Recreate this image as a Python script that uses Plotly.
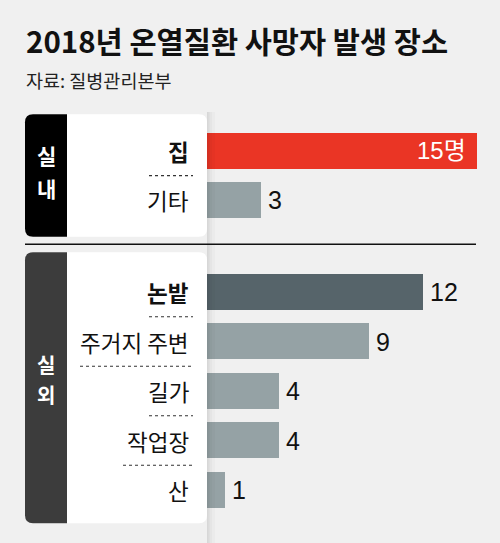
import plotly.graph_objects as go

W, H = 500, 543

# ---- data ----
indoor_places = ["집", "기타"]
indoor_counts = [15, 3]
outdoor_places = ["논밭", "주거지 주변", "길가", "작업장", "산"]
outdoor_counts = [12, 9, 4, 4, 1]
group_names = ["실내", "실외"]
title_text = "2018년 온열질환 사망자 발생 장소"
source_text = "자료: 질병관리본부"
unit = "명"

# ---- style ----
BG = "#f0f0f0"
RED = "#ea3525"
GRAY = "#95a2a5"
DARK = "#56646a"
indoor_colors = [RED, GRAY]
outdoor_colors = [DARK, GRAY, GRAY, GRAY, GRAY]
indoor_bold = [True, False]
outdoor_bold = [True, False, False, False, False]
indoor_sep_start = [149]
outdoor_sep_start = [149, 80, 149, 123]
KFONT = "Noto Sans CJK KR"
NFONT = "Liberation Sans, Arial, Noto Sans CJK KR"


def px(x):
    return x / W


def py(y):
    return 1 - y / H


def P(x, y):
    return f"{px(x):.5f},{py(y):.5f}"


def rrect(x0, y0, x1, y1, rl, rr):
    return (f"M {P(x0 + rl, y0)} L {P(x1 - rr, y0)} Q {P(x1, y0)} {P(x1, y0 + rr)} "
            f"L {P(x1, y1 - rr)} Q {P(x1, y1)} {P(x1 - rr, y1)} "
            f"L {P(x0 + rl, y1)} Q {P(x0, y1)} {P(x0, y1 - rl)} "
            f"L {P(x0, y0 + rl)} Q {P(x0, y0)} {P(x0 + rl, y0)} Z")


fig = go.Figure()
fig.add_trace(go.Bar(x=indoor_counts, y=indoor_places, orientation="h",
                     marker=dict(color=indoor_colors, line_width=0), width=0.725,
                     xaxis="x", yaxis="y", hoverinfo="skip"))
fig.add_trace(go.Bar(x=outdoor_counts, y=outdoor_places, orientation="h",
                     marker=dict(color=outdoor_colors, line_width=0), width=0.725,
                     xaxis="x", yaxis="y2", hoverinfo="skip"))

shapes = []
annotations = []

# panels
panels = [(114.3, 236.7, "#000000"), (252.3, 523.3, "#3c3c3c")]
for (y0, y1, tabc) in panels:
    shapes.append(dict(type="path", xref="paper", yref="paper", layer="below",
                       path=rrect(25, y0, 207, y1, 8, 8), fillcolor="white", line_width=0))
    shapes.append(dict(type="path", xref="paper", yref="paper", layer="below",
                       path=rrect(25, y0, 67, y1, 8, 0), fillcolor=tabc, line_width=0))

# shadow strip to the right of panels
for (a, b, op) in [(207, 208.5, 0.10), (208.5, 210, 0.07), (210, 212, 0.045), (212, 215, 0.02)]:
    shapes.append(dict(type="rect", xref="paper", yref="paper", layer="above",
                       x0=px(a), x1=px(b), y0=py(543), y1=py(112),
                       fillcolor=f"rgba(0,0,0,{op})", line_width=0))

# divider line
shapes.append(dict(type="line", xref="paper", yref="paper", x0=px(25), x1=px(476),
                   y0=py(244.3), y1=py(244.3), line=dict(color="#111111", width=1.5)))

# dotted separators between labels
for yref, starts in [("y", indoor_sep_start), ("y2", outdoor_sep_start)]:
    for i, s in enumerate(starts):
        shapes.append(dict(type="line", xref="paper", yref=yref, x0=px(s), x1=px(193),
                           y0=i + 0.5, y1=i + 0.5,
                           line=dict(color="#333333", width=1.2, dash="dot")))

# category labels and value labels
for yref, places, counts, bolds in [("y", indoor_places, indoor_counts, indoor_bold),
                                    ("y2", outdoor_places, outdoor_counts, outdoor_bold)]:
    for p, c, b in zip(places, counts, bolds):
        annotations.append(dict(xref="paper", yref=yref, x=px(191), y=p, xanchor="right",
                                yanchor="middle", showarrow=False,
                                text=f"<b>{p}</b>" if b else p,
                                font=dict(family=KFONT, size=22.5, color="#111111")))
        if c == max(indoor_counts + outdoor_counts):
            annotations.append(dict(xref="x", yref=yref, x=c, y=p, xanchor="right",
                                    yanchor="middle", xshift=-9, showarrow=False,
                                    text=f"{c}{unit}",
                                    font=dict(family=NFONT, size=24, color="white")))
        else:
            annotations.append(dict(xref="x", yref=yref, x=c, y=p, xanchor="left",
                                    yanchor="middle", xshift=5, showarrow=False,
                                    text=str(c),
                                    font=dict(family=NFONT, size=25, color="#111111")))

# group tab labels (vertical, one character per text)
tab_chars = [(group_names[0][0], 155, 21), (group_names[0][1], 188, 21),
             (group_names[1][0], 364, 20), (group_names[1][1], 394, 20)]
for ch, yc, fs in tab_chars:
    annotations.append(dict(xref="paper", yref="paper", x=px(46), y=py(yc),
                            xanchor="center", yanchor="middle", showarrow=False,
                            text=f"<b>{ch}</b>",
                            font=dict(family=KFONT, size=fs, color="white")))

# title and source
annotations.append(dict(xref="paper", yref="paper", x=px(24), y=py(40), xanchor="left",
                        yanchor="middle", showarrow=False, text=f"<b>{title_text}</b>",
                        font=dict(family=KFONT, size=29.5, color="#111111")))
annotations.append(dict(xref="paper", yref="paper", x=px(24), y=py(80), xanchor="left",
                        yanchor="middle", showarrow=False, text=source_text,
                        font=dict(family=KFONT, size=18.5, color="#222222")))

fig.update_layout(
    width=W, height=H, margin=dict(l=0, r=0, t=0, b=0),
    paper_bgcolor=BG, plot_bgcolor="rgba(0,0,0,0)", showlegend=False,
    xaxis=dict(domain=[px(207), px(477)], range=[0, 15], visible=False, fixedrange=True),
    yaxis=dict(domain=[py(225.3), py(126.0)], range=[len(indoor_places) - 0.5, -0.5],
               visible=False, type="category", categoryorder="array",
               categoryarray=indoor_places, fixedrange=True),
    yaxis2=dict(domain=[py(514.75), py(267.25)], range=[len(outdoor_places) - 0.5, -0.5],
                visible=False, type="category", categoryorder="array",
                categoryarray=outdoor_places, anchor="x", fixedrange=True),
    shapes=shapes, annotations=annotations, bargap=0,
)

fig.write_html("out.html", config={"displayModeBar": False},
               post_script="document.body.style.margin='0';document.body.style.overflow='hidden';")
